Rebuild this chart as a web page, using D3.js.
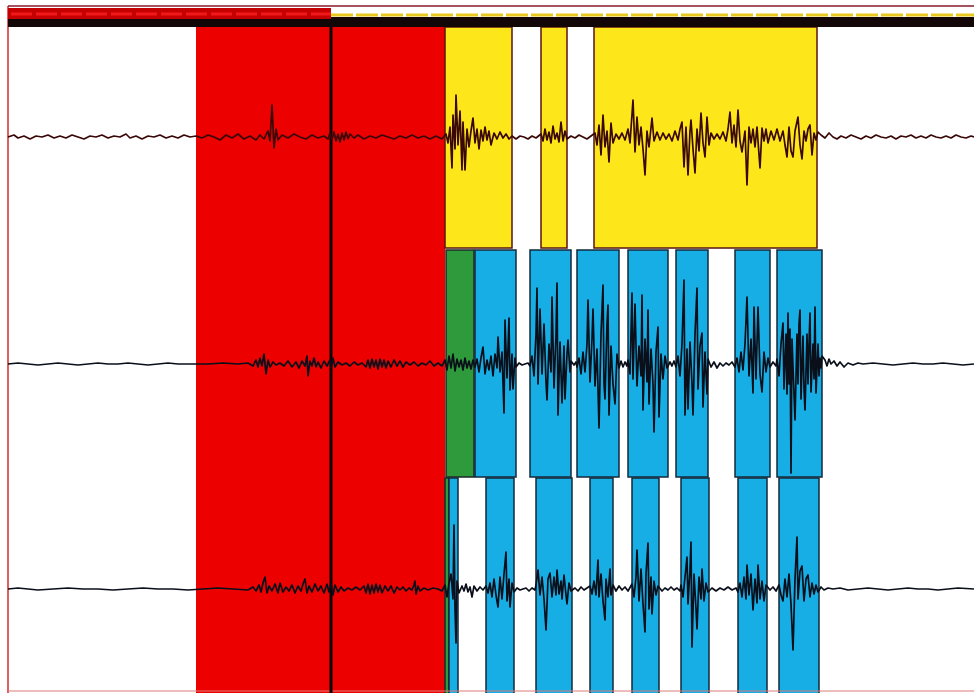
<!DOCTYPE html>
<html lang="en">
<head>
    <meta charset="utf-8">
    <title>EMG traces with activity zones</title>
    <script src="https://d3js.org/d3.v7.min.js"></script>
    <style type="text/css">
        body { margin: 0; background: #fff; }
        svg { display: block; }
    </style>
</head>
<body>
<script type="text/javascript">

// time axis in samples, amplitude in uV
var w = 974, h = 693;

// event strip along the top
var stripRed = [0, 323];
var stripYellow = [323, 966];
var markerAt = 323;

// zones
var redZone = [188, 437];
var yellowBlocks = [[437, 504], [533, 559], [586, 809]];
var greenBlocks2 = [[438, 466]];
var blueBlocks2 = [[467, 508], [522, 563], [569, 611], [620, 660], [668, 700], [727, 762], [769, 814]];
var greenBlocks3 = [[437, 441]];
var blueBlocks3 = [[441, 450], [478, 506], [528, 564], [582, 605], [624, 651], [673, 701], [730, 759], [771, 811]];

// trace 1 [sample, uV]
var trace1 = [[0,0],[6,2],[10,-1],[16,1],[22,-2],[28,1],[34,0],[40,2],[46,-1],[52,1],[58,-1],[64,2],[70,0],[76,-2],[82,1],[88,0],[94,2],[100,-1],[106,1],[112,0],[118,3],[122,-1],[128,1],[134,-2],[140,1],[146,0],[152,2],[158,-1],[164,1],[170,-1],[176,2],[182,0],[188,1],
[194,-1],[200,2],[206,0],[212,-3],[218,2],[224,-1],[230,3],[236,-2],[242,1],[248,-3],[252,2],[256,-2],[260,6],[262,-4],[264,32],[266,-11],[268,8],[270,-3],[274,2],[280,-1],[286,3],[292,0],[298,-2],[304,2],[310,-1],[316,1],[320,-2],[322,4],[324,-3],[326,5],[328,-4],[330,3],[332,-5],[334,4],[336,-3],[338,5],[340,-2],[342,3],[346,-1],[350,2],[356,-2],[362,1],[368,-1],[374,2],[380,0],[386,-2],[392,1],[398,-1],[404,2],[410,-1],[416,1],[422,-2],[428,1],[434,-2],
[438,3],[440,-6],[442,10],[444,-31],[445,22],[447,-12],[448,42],[450,-8],[452,26],[454,-33],[455,15],[457,-33],[459,8],[461,-10],[463,6],[465,19],[467,-6],[469,8],[471,-12],[473,7],[475,-4],[477,10],[479,-3],[481,6],[483,-8],[486,4],[489,-2],[492,5],[495,-1],[498,3],[501,-2],[504,1],
[508,-2],[512,1],[516,0],[520,-2],[524,1],[528,-1],
[533,3],[535,-4],[537,8],[539,-3],[541,5],[543,-6],[545,11],[547,-2],[549,4],[551,-5],[553,15],[555,-4],[557,6],[559,-2],
[563,1],[567,-1],[571,2],[575,0],[579,-2],[583,1],
[587,4],[589,-8],[591,12],[593,-18],[595,22],[597,-10],[599,6],[601,-25],[603,14],[605,-6],[608,3],[611,-2],[614,4],[617,-3],[620,8],[622,-6],[625,37],[627,-15],[629,20],[631,-8],[633,10],[635,-12],[637,-38],[639,6],[641,-10],[644,19],[646,-4],[649,5],[652,-3],[655,4],[658,-2],[661,3],[664,-4],[667,6],[670,-3],[672,8],[674,15],[676,-30],[678,10],[680,-38],[682,6],[683,17],[685,-12],[687,-36],[689,8],[691,-14],[693,24],[695,-6],[697,-20],[699,20],[701,-8],[703,4],[706,-2],[709,3],[712,-2],[715,5],[718,-4],[720,8],[722,25],[724,-6],[726,12],[728,-10],[730,27],[732,-4],[734,-15],[737,6],[739,-48],[741,10],[743,-6],[745,8],[747,-10],[749,10],[752,-31],[754,9],[756,-4],[758,8],[760,-6],[763,6],[766,-3],[769,8],[772,-4],[775,6],[777,-8],[779,-20],[781,10],[783,-14],[785,-20],[787,6],[790,20],[792,-8],[794,-22],[796,6],[798,-4],[800,8],[802,12],[804,-18],[806,4],[808,-3],[810,5],
[813,2],[817,-1],[821,4],[825,0],[829,-2],[833,1],[838,-1],[843,2],[848,0],[853,-2],[858,1],[863,-1],[868,2],[873,0],[878,-1],[883,1],[888,-2],[893,1],[898,0],[903,2],[908,-1],[913,1],[918,-1],[923,2],[928,0],[933,-1],[938,1],[943,-1],[948,2],[953,0],[958,-1],[963,1],[966,0]];

// trace 2
var trace2 = [[0,0],[10,1],[20,0],[30,-1],[40,0],[50,1],[60,0],[70,-1],[80,0],[90,1],[100,0],[110,0],[120,1],[130,0],[140,-1],[150,0],[160,1],[170,0],[180,0],[188,0],
[200,0],[215,1],[230,0],[240,1],[245,-2],[248,4],[250,-3],[252,6],[254,-2],[256,10],[258,-10],[260,4],[262,-3],[265,2],[268,-1],[272,1],[276,-2],[280,3],[284,-3],[288,2],[291,-4],[294,3],[297,-2],[299,8],[300,-12],[302,3],[304,-2],[306,6],[308,-3],[310,2],[313,-4],[316,3],[319,-2],[322,4],[323,-5],[325,6],[327,-3],[330,2],[334,-1],[338,1],[342,-2],[346,2],[350,-1],[354,1],[358,-3],[360,4],[362,-4],[364,5],[366,-3],[368,4],[370,-5],[372,5],[374,-3],[376,4],[378,-4],[380,3],[383,-3],[386,4],[389,-2],[392,3],[395,-3],[398,2],[402,-1],[406,2],[410,-2],[414,1],[418,-1],[422,3],[426,-2],[430,1],[434,-2],
[437,4],[439,-6],[441,8],[443,-4],[445,10],[447,-7],[449,5],[451,-3],[453,4],[455,-6],[457,6],[459,-4],[461,3],[463,-5],[465,4],
[467,-3],[469,5],[471,-8],[473,6],[475,17],[477,-10],[479,4],[481,-6],[483,8],[485,-12],[487,10],[489,-4],[490,27],[492,-8],[494,12],[496,-49],[497,44],[499,-14],[501,46],[502,-26],[504,10],[505,-25],[507,6],[508,-3],
[511,1],[514,-1],[517,0],[520,1],
[522,-2],[524,8],[526,-12],[528,30],[529,76],[530,-20],[532,55],[534,-10],[536,40],[538,-18],[539,-36],[541,20],[543,-8],[544,67],[546,-24],[548,30],[549,81],[550,-51],[552,22],[554,-39],[556,18],[557,-35],[559,10],[560,24],[562,-8],[563,3],
[566,-1],[568,2],
[569,-3],[571,6],[573,-10],[575,12],[577,-8],[579,20],[580,64],[582,-18],[584,25],[585,55],[587,-22],[589,15],[591,-64],[593,30],[595,79],[596,-20],[597,-35],[599,40],[600,59],[601,-51],[603,18],[605,-20],[607,-40],[609,10],[611,-4],
[613,3],[615,-3],[617,2],[619,-2],
[620,4],[622,-10],[624,71],[625,-15],[627,60],[629,-22],[631,18],[633,-12],[634,69],[635,-46],[637,25],[639,-18],[640,54],[641,-40],[643,15],[645,-20],[646,-68],[648,12],[650,37],[651,-53],[653,10],[655,-15],[657,8],[659,-4],
[662,2],[664,-2],[666,3],
[668,-3],[670,8],[672,-12],[674,20],[676,84],[677,-51],[679,15],[680,-45],[682,22],[684,-20],[685,-51],[687,30],[689,76],[690,-25],[692,18],[694,31],[695,-43],[697,12],[699,-30],[700,5],
[703,-3],[706,2],[709,-4],[712,1],[715,-2],[718,1],[721,-1],[724,2],
[727,-3],[729,6],[731,-8],[733,12],[735,-6],[737,20],[739,67],[741,-12],[743,25],[745,-29],[746,57],[748,-15],[750,57],[752,-10],[754,-28],[756,12],[758,-8],[760,6],[762,-3],
[765,2],[768,-2],
[769,5],[771,-12],[773,20],[775,41],[776,-25],[778,30],[779,-30],[780,51],[781,-20],[782,35],[783,-109],[784,25],[786,-30],[787,-56],[789,30],[790,-20],[791,40],[792,54],[793,-35],[795,28],[796,-25],[797,-46],[799,30],[800,-20],[801,20],[802,51],[803,-28],[805,20],[806,-15],[807,57],[808,-29],[810,20],[811,-12],[812,6],[813,-4],[814,8],
[817,4],[819,-2],[821,5],[823,0],[826,3],[829,-2],[832,2],[836,-3],[840,1],[845,-1],[850,1],[855,0],[865,1],[875,0],[885,-1],[895,0],[905,1],[915,0],[925,0],[935,1],[945,0],[955,-1],[966,0]];

// trace 3
var trace3 = [[0,0],[10,1],[20,0],[30,-1],[45,0],[60,1],[75,0],[90,0],[105,-1],[120,0],[135,1],[150,0],[165,0],[180,-1],[195,0],[210,1],[225,0],[240,-1],
[245,2],[248,-2],[251,4],[253,-3],[255,6],[257,12],[259,-4],[261,3],[264,-2],[267,5],[270,-4],[272,6],[275,-3],[278,2],[281,-2],[284,4],[287,-4],[290,3],[293,-2],[295,5],[297,10],[299,-4],[301,3],[304,-3],[307,5],[310,-2],[313,3],[316,-4],[319,5],[321,-3],[323,6],[325,-6],[327,4],[330,-3],[333,2],[336,-2],[340,1],[344,-1],[348,2],[352,-1],[356,3],[358,-4],[360,5],[362,-5],[364,4],[366,-4],[368,5],[370,-3],[372,4],[374,-4],[377,3],[380,-2],[383,3],[386,-4],[389,2],[392,-1],[395,2],[398,-2],[401,1],[404,-1],[406,4],[407,8],[408,-5],[410,3],[412,-2],[416,1],[420,-1],[425,1],[430,0],[434,-2],
[437,4],[439,-8],[441,6],[443,15],[445,-10],[446,64],[447,-20],[448,-54],[449,8],[451,-4],
[454,3],[456,-2],[458,5],[460,-3],[462,2],[464,-8],[466,3],[469,-2],[472,2],[475,-1],
[478,3],[480,-4],[482,6],[484,-8],[486,10],[488,-6],[490,-18],[492,12],[494,-10],[496,15],[498,37],[499,-12],[501,10],[502,-18],[504,6],[506,-3],
[509,1],[512,-1],[515,0],[518,1],[521,-2],[524,1],[527,-1],
[528,4],[530,19],[532,-6],[534,12],[536,-10],[538,-41],[540,10],[542,16],[544,-8],[546,12],[548,-6],[549,19],[551,-5],[553,8],[554,-10],[556,14],[558,-6],[559,-15],[561,6],[563,-2],
[567,1],[570,-2],[573,2],[576,-1],[579,1],
[582,3],[584,-5],[586,8],[588,-6],[590,29],[591,-8],[593,15],[595,-12],[597,-31],[598,10],[600,-8],[602,20],[603,-6],[605,4],
[608,-2],[611,3],[614,-1],[617,2],[620,-2],
[624,5],[626,-8],[628,12],[629,39],[631,-12],[633,20],[635,-15],[637,-43],[638,15],[640,46],[641,-20],[643,12],[644,-25],[646,8],[648,-6],[650,3],
[654,-2],[657,1],[660,-1],[663,2],[666,-1],[669,1],[672,-2],
[673,4],[675,-8],[677,12],[679,32],[680,-15],[682,20],[683,47],[684,-58],[686,15],[688,-20],[689,-40],[691,12],[693,-10],[694,20],[696,-12],[698,6],[700,-3],
[704,1],[708,-2],[712,1],[716,-1],[720,2],[724,-1],[728,1],
[730,-3],[732,6],[734,-8],[736,12],[738,-10],[739,24],[741,-6],[743,15],[745,-21],[747,10],[749,-14],[750,24],[752,-10],[754,8],[756,-12],[758,4],
[762,-1],[765,2],[768,-2],
[771,4],[773,-6],[775,-12],[777,10],[779,-8],[781,15],[783,-15],[785,-61],[787,10],[789,52],[790,-10],[792,18],[794,23],[796,-12],[798,10],[800,14],[802,-8],[804,6],[806,-5],[808,4],[810,-3],
[813,2],[816,-1],[820,1],[825,0],[832,1],[840,-1],[850,0],[860,1],[870,0],[880,-1],[890,0],[900,1],[910,0],[920,0],[930,-1],[940,0],[950,1],[966,0]];

// layout of the three channel rows (pixels)
var rows = [
    { top: 27, bottom: 248, base: 137 },
    { top: 250, bottom: 477, base: 364 },
    { top: 478, bottom: 693, base: 589 }
];

var RED = "#ec0000", YELLOW = "#fde619", BLUE = "#17aee6", GREEN = "#2f9a3b";

var x = d3.scaleLinear().domain([0, 966]).range([8, 974]);

var svg = d3.select("body").append("svg")
    .attr("width", w)
    .attr("height", h);

// red zone over all rows
svg.append("rect")
    .attr("x", x(redZone[0]))
    .attr("y", rows[0].top)
    .attr("width", x(redZone[1]) - x(redZone[0]))
    .attr("height", h - rows[0].top)
    .attr("fill", RED);

function blocks(data, row, fill, stroke) {
    svg.append("g").selectAll("rect")
        .data(data)
        .enter()
        .append("rect")
        .attr("x", function (d) { return x(d[0]); })
        .attr("y", row.top)
        .attr("width", function (d) { return x(d[1]) - x(d[0]); })
        .attr("height", row.bottom - row.top)
        .attr("fill", fill)
        .attr("stroke", stroke)
        .attr("stroke-width", 1.5);
}

blocks(yellowBlocks, rows[0], YELLOW, "#5a1410");
blocks(greenBlocks2, rows[1], GREEN, "#1a2a2a");
blocks(blueBlocks2, rows[1], BLUE, "#15283a");
blocks(greenBlocks3, { top: rows[2].top, bottom: h + 2 }, GREEN, "#1a2a2a");
blocks(blueBlocks3, { top: rows[2].top, bottom: h + 2 }, BLUE, "#15283a");

// frame lines
svg.append("line")
    .attr("x1", 8).attr("x2", 8).attr("y1", 6).attr("y2", h)
    .attr("stroke", "#d22a2a").attr("stroke-width", 1.5);
svg.append("line")
    .attr("x1", 8).attr("x2", w).attr("y1", 691).attr("y2", 691)
    .attr("stroke", "#e07a7a").attr("stroke-width", 1);
svg.append("line")
    .attr("x1", 8).attr("x2", w).attr("y1", 6).attr("y2", 6)
    .attr("stroke", "#8a1a2a").attr("stroke-width", 1.5);

// top event strip
svg.append("rect")
    .attr("x", x(0)).attr("y", 17)
    .attr("width", x(966) - x(0)).attr("height", 10)
    .attr("fill", "#120606");
svg.append("rect")
    .attr("x", x(stripRed[0])).attr("y", 8)
    .attr("width", x(stripRed[1]) - x(stripRed[0])).attr("height", 11)
    .attr("fill", "#c40000");
svg.append("line")
    .attr("x1", x(stripRed[0]) + 3).attr("x2", x(stripRed[1]))
    .attr("y1", 14).attr("y2", 14)
    .attr("stroke", "#f01818").attr("stroke-width", 3)
    .attr("stroke-dasharray", "21,4");
svg.append("line")
    .attr("x1", x(stripYellow[0])).attr("x2", x(stripYellow[1]))
    .attr("y1", 15).attr("y2", 15)
    .attr("stroke", "#e8c81a").attr("stroke-width", 3)
    .attr("stroke-dasharray", "22,3");

// marker line
svg.append("line")
    .attr("x1", x(markerAt)).attr("x2", x(markerAt))
    .attr("y1", rows[0].top).attr("y2", h)
    .attr("stroke", "#0a0505").attr("stroke-width", 3);

// traces
var traces = [trace1, trace2, trace3];
var traceColors = ["#3a0808", "#0b0f1a", "#0b0f1a"];

traces.forEach(function (tr, i) {
    var y = d3.scaleLinear()
        .domain([-100, 100])
        .range([rows[i].base + 100, rows[i].base - 100]);
    var line = d3.line()
        .x(function (d) { return x(d[0]); })
        .y(function (d) { return y(d[1]); });
    svg.append("path")
        .datum(tr)
        .attr("d", line)
        .attr("fill", "none")
        .attr("stroke", traceColors[i])
        .attr("stroke-width", 1.7)
        .attr("stroke-linejoin", "round");
});

</script>
</body>
</html>
